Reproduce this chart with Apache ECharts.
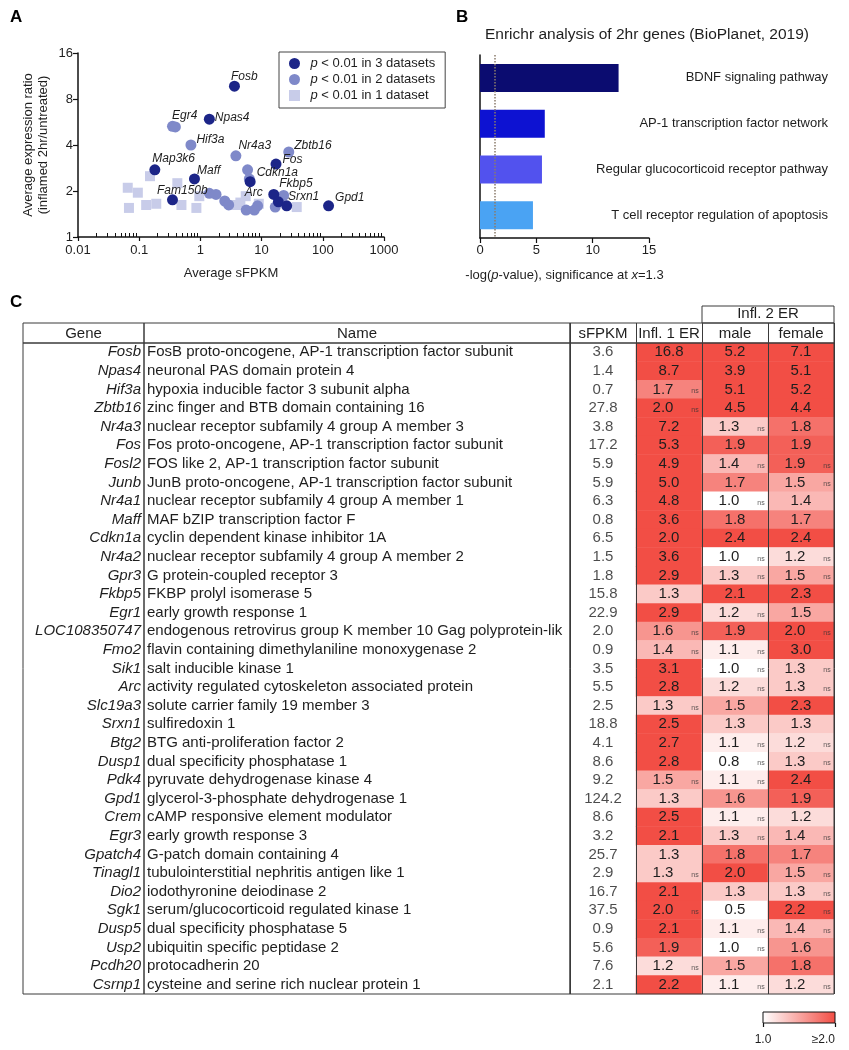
<!DOCTYPE html>
<html><head><meta charset="utf-8">
<script src="https://cdn.jsdelivr.net/npm/echarts@6/dist/echarts.min.js"></script>
<style>html,body{margin:0;padding:0;background:#fff}#c{width:849px;height:1050px}</style>
</head><body><div id="c"></div>
<script>
// ---------------- Panel A data: [gene, average sFPKM, average expression ratio] ----------------
const legendNames = ['p < 0.01 in 3 datasets', 'p < 0.01 in 2 datasets', 'p < 0.01 in 1 dataset'];
const dark3 = [
  ['Fosb', 3.6, 9.7], ['Npas4', 1.4, 5.9], ['Map3k6', 0.18, 2.75], ['Maff', 0.8, 2.4],
  ['Fam150b', 0.35, 1.75], ['Fos', 17.2, 3.0], ['Cdkn1a', 6.5, 2.3], ['Fkbp5', 15.8, 1.9],
  ['Srxn1', 18.8, 1.7], ['Gpatch4', 25.7, 1.6], ['Gpd1', 124.2, 1.6]
];
const medium2 = [
  ['Egr4', 0.35, 5.3], ['', 0.39, 5.25], ['Hif3a', 0.7, 4.0], ['Nr4a3', 3.8, 3.4], ['Zbtb16', 27.8, 3.6],
  ['', 5.9, 2.75], ['', 6.3, 2.4], ['', 22.9, 1.87], ['', 16.7, 1.57], ['', 8.6, 1.6],
  ['', 5.6, 1.5], ['', 7.6, 1.5], ['', 1.4, 1.93], ['', 1.8, 1.9], ['', 2.5, 1.72], ['', 2.9, 1.62]
];
const light1 = [
  ['', 0.065, 2.1], ['', 0.095, 1.95], ['', 0.068, 1.55], ['', 0.13, 1.62], ['', 0.19, 1.65],
  ['', 0.15, 2.5], ['', 0.42, 2.25], ['', 0.49, 1.62], ['', 0.86, 1.55], ['', 0.96, 1.85],
  ['', 3.8, 1.62], ['', 4.5, 1.68], ['Arc', 5.5, 1.85], ['', 9.0, 1.65], ['', 37.5, 1.57]
];
const xTickValues = [0.01, 0.1, 1, 10, 100, 1000];
const yTickValues = [1, 2, 4, 8, 16];

// ---------------- Panel B data ----------------
const pathways = ['BDNF signaling pathway', 'AP-1 transcription factor network',
  'Regular glucocorticoid receptor pathway', 'T cell receptor regulation of apoptosis'];
const pathwayScores = [12.3, 5.75, 5.5, 4.7];
const significanceLine = 1.3;

// ---------------- Panel C data ----------------
const genes = ['Fosb','Npas4','Hif3a','Zbtb16','Nr4a3','Fos','Fosl2','Junb','Nr4a1','Maff','Cdkn1a','Nr4a2',
  'Gpr3','Fkbp5','Egr1','LOC108350747','Fmo2','Sik1','Arc','Slc19a3','Srxn1','Btg2','Dusp1','Pdk4','Gpd1',
  'Crem','Egr3','Gpatch4','Tinagl1','Dio2','Sgk1','Dusp5','Usp2','Pcdh20','Csrnp1'];
const geneNames = [
  'FosB proto-oncogene, AP-1 transcription factor subunit',
  'neuronal PAS domain protein 4',
  'hypoxia inducible factor 3 subunit alpha',
  'zinc finger and BTB domain containing 16',
  'nuclear receptor subfamily 4 group A member 3',
  'Fos proto-oncogene, AP-1 transcription factor subunit',
  'FOS like 2, AP-1 transcription factor subunit',
  'JunB proto-oncogene, AP-1 transcription factor subunit',
  'nuclear receptor subfamily 4 group A member 1',
  'MAF bZIP transcription factor F',
  'cyclin dependent kinase inhibitor 1A',
  'nuclear receptor subfamily 4 group A member 2',
  'G protein-coupled receptor 3',
  'FKBP prolyl isomerase 5',
  'early growth response 1',
  'endogenous retrovirus group K member 10 Gag polyprotein-like',
  'flavin containing dimethylaniline monoxygenase 2',
  'salt inducible kinase 1',
  'activity regulated cytoskeleton associated protein',
  'solute carrier family 19 member 3',
  'sulfiredoxin 1',
  'BTG anti-proliferation factor 2',
  'dual specificity phosphatase 1',
  'pyruvate dehydrogenase kinase 4',
  'glycerol-3-phosphate dehydrogenase 1',
  'cAMP responsive element modulator',
  'early growth response 3',
  'G-patch domain containing 4',
  'tubulointerstitial nephritis antigen like 1',
  'iodothyronine deiodinase 2',
  'serum/glucocorticoid regulated kinase 1',
  'dual specificity phosphatase 5',
  'ubiquitin specific peptidase 2',
  'protocadherin 20',
  'cysteine and serine rich nuclear protein 1'
];
const sfpkm = [3.6,1.4,0.7,27.8,3.8,17.2,5.9,5.9,6.3,0.8,6.5,1.5,1.8,15.8,22.9,2.0,0.9,3.5,5.5,2.5,18.8,4.1,8.6,9.2,124.2,8.6,3.2,25.7,2.9,16.7,37.5,0.9,5.6,7.6,2.1];
const infl1 = [16.8,8.7,1.7,2.0,7.2,5.3,4.9,5.0,4.8,3.6,2.0,3.6,2.9,1.3,2.9,1.6,1.4,3.1,2.8,1.3,2.5,2.7,2.8,1.5,1.3,2.5,2.1,1.3,1.3,2.1,2.0,2.1,1.9,1.2,2.2];
const infl1Ns = [0,0,1,1,0,0,0,0,0,0, 0,0,0,0,0,1,1,0,0,1, 0,0,0,1,0,0,0,0,1,0, 1,0,0,1,0];
const male = [5.2,3.9,5.1,4.5,1.3,1.9,1.4,1.7,1.0,1.8,2.4,1.0,1.3,2.1,1.2,1.9,1.1,1.0,1.2,1.5,1.3,1.1,0.8,1.1,1.6,1.1,1.3,1.8,2.0,1.3,0.5,1.1,1.0,1.5,1.1];
const maleNs = [0,0,0,0,1,0,1,0,1,0, 0,1,1,0,1,0,1,1,1,0, 0,1,1,1,0,1,1,0,0,0, 0,1,1,0,1];
const female = [7.1,5.1,5.2,4.4,1.8,1.9,1.9,1.5,1.4,1.7,2.4,1.2,1.5,2.3,1.5,2.0,3.0,1.3,1.3,2.3,1.3,1.2,1.3,2.4,1.9,1.2,1.4,1.7,1.5,1.3,2.2,1.4,1.6,1.8,1.2];
const femaleNs = [0,0,0,0,0,0,1,1,0,0, 0,1,1,0,0,1,0,1,1,0, 0,1,1,0,0,0,1,0,1,1, 1,1,0,0,1];
const headerCols = ['sFPKM', 'Infl. 1 ER', 'male', 'female'];
const colorScaleLabels = ['1.0', '≥2.0'];

// ---------------- styles / layout ----------------
const FONT = "'Liberation Sans', Arial, Helvetica, sans-serif";
const INK = '#1e1e1e';
const AX = '#111';
const BORDER = '#3a3a3a';
const RED = '#f24e45';
const C_DARK = '#1c2588', C_MED = '#7f89c9', C_LIGHT = '#c8cce9';
const barColors = ['#0b0c70', '#0d12d2', '#5252ee', '#4aa3f3'];
const TFS = 15; // table font size
const SQUARE_ICON = 'path://M0,0L10,0L10,10L0,10Z';
const labelOffsets = {Fosb:[-11,-10], Npas4:[-2,-2], Egr4:[-8,-11], Hif3a:[-2,-5], Nr4a3:[-5,-10],
  Zbtb16:[-2,-6], Map3k6:[-10,-11], Maff:[-5,-8], Fos:[-1,-4], Cdkn1a:[-1,-9], Fam150b:[-23,-9],
  Arc:[-8,-4], Fkbp5:[-2,-11], Srxn1:[2,-5], Gpd1:[-1,-8]};

const minorTicks = [];
[0.01, 0.1, 1, 10, 100].forEach(d => { for (let k = 2; k <= 9; k++) minorTicks.push(+(d * k).toPrecision(3)); });

function toPoints(arr) {
  return arr.map(([name, x, y]) => {
    const item = {name: name, value: [x, y]};
    if (name && labelOffsets[name]) item.label = {show: true, offset: labelOffsets[name]};
    return item;
  });
}
const pointLabel = {show: false, position: 'right', distance: 2, formatter: '{b}',
  fontStyle: 'italic', fontSize: 12, color: INK, fontFamily: FONT};

// heatmap data
const valueCols = [infl1, male, female];
const nsCols = [infl1Ns, maleNs, femaleNs];
const heatData = [], nsData = [];
valueCols.forEach((col, c) => col.forEach((v, r) => {
  const item = {value: [c + 1, r, v]};
  if (nsCols[c][r]) { item.label = {offset: [-6, 0]}; nsData.push([c + 1, r]); }
  heatData.push(item);
}));
const sfpkmData = sfpkm.map((v, r) => [0, r, v]);

const hiddenCat = (grid, pos) => ({gridIndex: grid, type: 'category', data: ['·'], show: false, position: pos});
const headerGrid = (left, top, width, height) => ({left, top, width, height, show: true, borderColor: BORDER, borderWidth: 1, z: 5});
const headerX = (grid, data, fs) => ({gridIndex: grid, type: 'category', data: data, position: 'bottom',
  axisLine: {show: false}, axisTick: {show: false},
  axisLabel: {inside: true, margin: 2, interval: 0, fontSize: fs, color: INK, fontFamily: FONT},
  splitLine: {show: data.length > 1, interval: 0, lineStyle: {color: BORDER, width: 1}}});

const option = {
  animation: false,
  backgroundColor: '#ffffff',
  textStyle: {fontFamily: FONT, color: INK},
  title: [
    {text: 'A', left: 10, top: 9, padding: 0, textStyle: {fontSize: 17, fontWeight: 'bold', color: '#000', fontFamily: FONT}},
    {text: 'B', left: 456, top: 9, padding: 0, textStyle: {fontSize: 17, fontWeight: 'bold', color: '#000', fontFamily: FONT}},
    {text: 'C', left: 10, top: 294, padding: 0, textStyle: {fontSize: 17, fontWeight: 'bold', color: '#000', fontFamily: FONT}},
    {text: 'Enrichr analysis of 2hr genes (BioPlanet, 2019)', left: 485, top: 27, padding: 0,
      textStyle: {fontSize: 15.5, fontWeight: 'normal', color: INK, fontFamily: FONT}}
  ],
  legend: {
    left: 279, top: 52, orient: 'vertical', borderColor: '#444', borderWidth: 1,
    padding: [5, 10, 6, 10], itemWidth: 22, itemHeight: 11, itemGap: 3, symbolKeepAspect: true,
    data: [
      {name: legendNames[0], icon: 'circle'},
      {name: legendNames[1], icon: 'circle'},
      {name: legendNames[2], icon: SQUARE_ICON}
    ],
    formatter: n => n.replace(/^p/, '{i|p}'),
    textStyle: {fontSize: 13, color: INK, fontFamily: FONT,
      rich: {i: {fontStyle: 'italic', fontSize: 13, color: INK, fontFamily: FONT}}}
  },
  visualMap: {show: false, type: 'continuous', min: 1, max: 2, dimension: 2, seriesIndex: 4,
    inRange: {color: ['#ffffff', RED]}},
  grid: [
    {left: 78, top: 53, width: 306, height: 184},              // 0 A
    {left: 480, top: 55, width: 169, height: 183},             // 1 B
    headerGrid(23, 323, 121, 20),                              // 2 Gene header
    headerGrid(144, 323, 426, 20),                             // 3 Name header
    headerGrid(570, 323, 264, 20),                             // 4 value headers
    headerGrid(702, 306, 132, 17),                             // 5 Infl. 2 ER
    {left: 23, top: 343, width: 121, height: 651, show: true, borderColor: BORDER, borderWidth: 1, z: 5},  // 6
    {left: 144, top: 343, width: 426, height: 651, show: true, borderColor: BORDER, borderWidth: 1, z: 5}, // 7
    {left: 570, top: 343, width: 264, height: 651, show: true, borderColor: BORDER, borderWidth: 1, z: 5}, // 8
    {left: 763, top: 1012, width: 72, height: 11, show: true, borderColor: '#111', borderWidth: 1, z: 5}   // 9 colour scale
  ],
  xAxis: [
    {gridIndex: 0, type: 'log', logBase: 10, min: 0.01, max: 1000, splitNumber: 5, position: 'bottom',
      axisLine: {show: true, lineStyle: {color: AX, width: 1.5}},
      axisTick: {show: true, length: 4, lineStyle: {color: AX, width: 1.2}},
      axisLabel: {fontSize: 13, color: INK, margin: 7, customValues: xTickValues, formatter: v => String(+(+v).toPrecision(3))},
      splitLine: {show: false},
      name: 'Average sFPKM', nameLocation: 'middle', nameGap: 30, nameTextStyle: {fontSize: 13, color: INK}},
    {gridIndex: 0, type: 'log', logBase: 10, min: 0.01, max: 1000, position: 'bottom',
      axisLine: {show: false}, axisLabel: {show: false}, splitLine: {show: false},
      axisTick: {show: true, inside: true, length: 4, customValues: minorTicks, lineStyle: {color: AX, width: 1}}},
    {gridIndex: 1, type: 'value', min: 0, max: 15, interval: 5,
      axisLine: {show: true, lineStyle: {color: AX, width: 1.5}},
      axisTick: {show: true, length: 5, lineStyle: {color: AX, width: 1.2}},
      axisLabel: {fontSize: 13, color: INK, margin: 6}, splitLine: {show: false},
      name: '-log({i|p}-value), significance at {i|x}=1.3', nameLocation: 'middle', nameGap: 31,
      nameTextStyle: {fontSize: 13, color: INK, rich: {i: {fontStyle: 'italic', fontSize: 13, color: INK}}}},
    headerX(2, ['Gene'], TFS),
    headerX(3, ['Name'], TFS),
    headerX(4, headerCols, TFS),
    headerX(5, ['Infl. 2 ER'], TFS),
    hiddenCat(6, 'bottom'),
    hiddenCat(7, 'bottom'),
    {gridIndex: 8, type: 'category', data: headerCols, z: 6,
      axisLine: {show: false}, axisTick: {show: false}, axisLabel: {show: false},
      splitLine: {show: true, interval: 0, lineStyle: {color: BORDER, width: 1}}},
    {gridIndex: 9, type: 'value', min: 1, max: 2, interval: 1,
      axisLine: {show: false}, splitLine: {show: false},
      axisTick: {show: true, length: 4, lineStyle: {color: '#111', width: 1.2}},
      axisLabel: {fontSize: 12, color: INK, margin: 11, alignMaxLabel: 'right',
        formatter: v => (v === 1 ? colorScaleLabels[0] : colorScaleLabels[1])}}
  ],
  yAxis: [
    {gridIndex: 0, type: 'log', logBase: 2, min: 1, max: 16, splitNumber: 4,
      axisLine: {show: true, lineStyle: {color: AX, width: 1.5}},
      axisTick: {show: true, length: 5, lineStyle: {color: AX, width: 1.2}},
      axisLabel: {fontSize: 13, color: INK, margin: 5, customValues: yTickValues}, splitLine: {show: false},
      name: 'Average expression ratio\n(inflamed 2hr/untreated)', nameLocation: 'middle', nameGap: 27,
      nameTextStyle: {fontSize: 13, color: INK, lineHeight: 15}},
    {gridIndex: 1, type: 'category', data: pathways, inverse: true,
      axisLine: {show: true, lineStyle: {color: AX, width: 1.5}}, axisTick: {show: false}, axisLabel: {show: false}},
    {gridIndex: 1, type: 'category', data: pathways, inverse: true, position: 'right',
      axisLine: {show: false}, axisTick: {show: false},
      axisLabel: {show: true, margin: 179, align: 'right', fontSize: 13, color: INK, interval: 0}},
    hiddenCat(2, 'left'), hiddenCat(3, 'left'), hiddenCat(4, 'left'), hiddenCat(5, 'left'),
    {gridIndex: 6, type: 'category', data: genes, inverse: true, position: 'right',
      axisLine: {show: false}, axisTick: {show: false},
      axisLabel: {inside: true, margin: 3, interval: 0, fontSize: TFS, fontStyle: 'italic', color: INK}},
    {gridIndex: 7, type: 'category', data: geneNames, inverse: true, position: 'left',
      axisLine: {show: false}, axisTick: {show: false},
      axisLabel: {inside: true, margin: 3, interval: 0, fontSize: TFS, color: INK, width: 423, overflow: 'truncate', ellipsis: ''}},
    {gridIndex: 8, type: 'category', data: genes, inverse: true, show: false},
    {gridIndex: 9, type: 'category', data: ['scale'], show: false}
  ],
  series: [
    {type: 'scatter', name: legendNames[2], xAxisIndex: 0, yAxisIndex: 0, symbol: 'rect', symbolSize: 10,
      itemStyle: {color: C_LIGHT, opacity: 1}, label: pointLabel, data: toPoints(light1), z: 2},
    {type: 'scatter', name: legendNames[1], xAxisIndex: 0, yAxisIndex: 0, symbol: 'circle', symbolSize: 11,
      itemStyle: {color: C_MED, opacity: 1}, label: pointLabel, data: toPoints(medium2), z: 3},
    {type: 'scatter', name: legendNames[0], xAxisIndex: 0, yAxisIndex: 0, symbol: 'circle', symbolSize: 11,
      itemStyle: {color: C_DARK, opacity: 1}, label: pointLabel, data: toPoints(dark3), z: 4},
    {type: 'bar', xAxisIndex: 2, yAxisIndex: 1, barWidth: 28,
      data: pathwayScores.map((v, i) => ({value: v, itemStyle: {color: barColors[i]}})),
      markLine: {silent: true, symbol: ['none', 'none'], label: {show: false},
        lineStyle: {type: 'dotted', color: '#8a7c6c', width: 1.5}, data: [{xAxis: significanceLine}]}},
    {type: 'heatmap', xAxisIndex: 9, yAxisIndex: 9, data: heatData, emphasis: {disabled: true},
      label: {show: true, fontSize: TFS, color: INK, formatter: p => p.value[2].toFixed(1)}},
    {type: 'scatter', xAxisIndex: 9, yAxisIndex: 9, symbolSize: 0, data: sfpkmData, z: 6,
      label: {show: true, position: 'inside', fontSize: TFS, color: INK, formatter: p => p.value[2].toFixed(1)}},
    {type: 'scatter', xAxisIndex: 9, yAxisIndex: 9, symbolSize: 0, data: nsData, z: 6,
      label: {show: true, position: 'inside', offset: [26, 2], fontSize: 7, color: '#333', formatter: 'ns'}},
    {type: 'bar', xAxisIndex: 10, yAxisIndex: 10, barWidth: '100%', silent: true, data: [2],
      itemStyle: {color: new echarts.graphic.LinearGradient(0, 0, 1, 0, [{offset: 0, color: '#ffffff'}, {offset: 1, color: RED}])}}
  ]
};
const chart = echarts.init(document.getElementById('c'), null, {renderer: 'canvas'});
chart.setOption(option);
</script>
</body></html>
